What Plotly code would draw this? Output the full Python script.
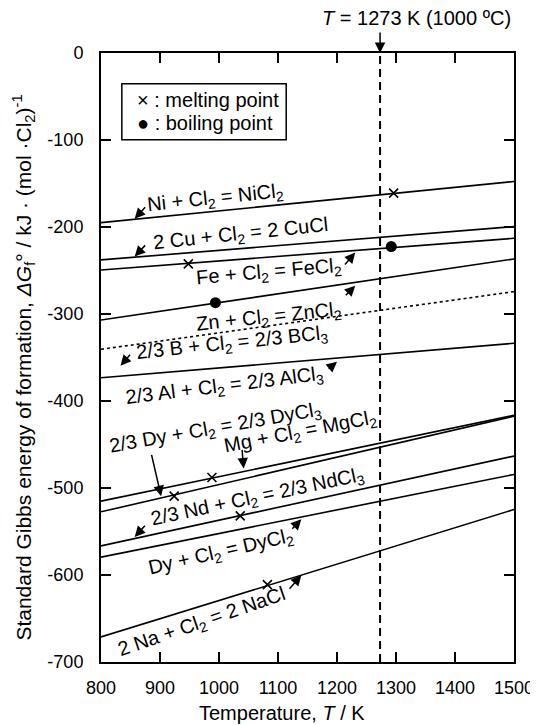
import plotly.graph_objects as go

# ---------------- data ----------------
T_ends = [800, 1500]
reaction_names = ["Ni", "Cu", "Fe", "Zn", "B", "Al", "Mg", "DyCl3", "Nd", "DyCl2", "Na"]
dG_at_800 = [-195.0, -237.8, -249.4, -306.9, -340.6, -373.3, -515.1, -527.4, -566.5, -579.5, -671.2]
dG_at_1500 = [-147.7, -199.5, -213.0, -236.7, -274.3, -333.7, -416.5, -417.5, -463.3, -484.4, -524.7]
line_dash = ["solid", "solid", "solid", "solid", "dot", "solid", "solid", "solid", "solid", "solid", "solid"]

melt_T = [1296, 948, 988, 924, 1036, 1082]
melt_dG = [-161.1, -242.4, -487.9, -509.3, -532.0, -611.0]
boil_T = [1292, 994]
boil_dG = [-222.5, -287.0]

label_text = [
    "Ni + Cl<sub>2</sub> = NiCl<sub>2</sub>",
    "2 Cu + Cl<sub>2</sub> = 2 CuCl",
    "Fe + Cl<sub>2</sub> = FeCl<sub>2</sub>",
    "Zn + Cl<sub>2</sub> = ZnCl<sub>2</sub>",
    "2/3 B + Cl<sub>2</sub> = 2/3 BCl<sub>3</sub>",
    "2/3 Al + Cl<sub>2</sub> = 2/3 AlCl<sub>3</sub>",
    "Mg + Cl<sub>2</sub> = MgCl<sub>2</sub>",
    "2/3 Dy + Cl<sub>2</sub> = 2/3 DyCl<sub>3</sub>",
    "2/3 Nd + Cl<sub>2</sub> = 2/3 NdCl<sub>3</sub>",
    "Dy + Cl<sub>2</sub> = DyCl<sub>2</sub>",
    "2 Na + Cl<sub>2</sub> = 2 NaCl",
]
label_T = [994.7, 1036.7, 1085.4, 1085.4, 1023.3, 1009.8, 1137.4, 994.7, 1065.2, 1003.1, 971.2]
label_dG = [-167.6, -209.1, -252.8, -304.5, -334.4, -382.8, -435.7, -431.1, -510.5, -573.8, -654.4]
label_angle = [-6, -6, -5, -6, -6, -7, -11, -10, -12, -13, -19]

arrow_tail_T = [877.2, 877.2, 1211.3, 1212.4, 851.5, 1183.3, 1038.9, 885.1, 876.7, 1121.8, 1117.3]
arrow_tail_dG = [-175.7, -219.4, -244.7, -280.1, -345.2, -364.4, -454.5, -460.2, -541.6, -548.5, -617.5]
arrow_tip_T = [857.1, 857.1, 1230.9, 1230.9, 833.1, 1200.0, 1041.7, 901.9, 857.1, 1139.6, 1139.6]
arrow_tip_dG = [-190.6, -234.0, -229.4, -267.4, -359.4, -354.8, -477.5, -509.4, -556.2, -535.8, -600.3]

T_mark = 1273
x_ticks = [800, 900, 1000, 1100, 1200, 1300, 1400, 1500]
y_ticks = [0, -100, -200, -300, -400, -500, -600, -700]
y_tick_text = ["0", "-100", "-200", "-300", "-400", "-500", "-600", "-700"]

FONT = "Liberation Sans, Arial, Helvetica, sans-serif"

fig = go.Figure()

for name, y0, y1, d in zip(reaction_names, dG_at_800, dG_at_1500, line_dash):
    fig.add_trace(go.Scatter(x=T_ends, y=[y0, y1], mode="lines",
                             line=dict(color="black", width=1.6, dash=d),
                             name=name, showlegend=False, hoverinfo="skip"))

fig.add_trace(go.Scatter(x=melt_T, y=melt_dG, mode="markers",
                         marker=dict(symbol="x-thin", size=9, color="black",
                                     line=dict(color="black", width=1.6)),
                         showlegend=False))
fig.add_trace(go.Scatter(x=boil_T, y=boil_dG, mode="markers",
                         marker=dict(symbol="circle", size=11, color="black"),
                         showlegend=False))

annotations = []
for txt, tx, ty, ang in zip(label_text, label_T, label_dG, label_angle):
    annotations.append(dict(x=tx, y=ty, xref="x", yref="y", text=txt, showarrow=False,
                            textangle=ang, xanchor="center", yanchor="middle",
                            font=dict(family=FONT, size=20, color="black")))

for ax_, ay_, x_, y_ in zip(arrow_tail_T, arrow_tail_dG, arrow_tip_T, arrow_tip_dG):
    annotations.append(dict(x=x_, y=y_, ax=ax_, ay=ay_, xref="x", yref="y",
                            axref="x", ayref="y", text="", showarrow=True,
                            arrowhead=2, arrowsize=1.4, arrowwidth=1.5,
                            arrowcolor="black", standoff=0, startstandoff=0))

# top marker arrow and text
annotations.append(dict(x=T_mark, y=1, xref="x", yref="paper", ax=0, ay=-22,
                        text="", showarrow=True, arrowhead=2, arrowsize=1.4,
                        arrowwidth=1.5, arrowcolor="black", standoff=0))
annotations.append(dict(x=1335, y=1.058, xref="x", yref="paper",
                        text="<i>T</i> = 1273 K (1000 ºC)", showarrow=False,
                        xanchor="center", yanchor="middle",
                        font=dict(family=FONT, size=20, color="black")))

# legend box text
annotations.append(dict(x=857, y=-54.5, xref="x", yref="y", text="× : melting point",
                        showarrow=False, xanchor="left", yanchor="middle",
                        font=dict(family=FONT, size=20, color="black")))
annotations.append(dict(x=857, y=-80.5, xref="x", yref="y", text="● : boiling point",
                        showarrow=False, xanchor="left", yanchor="middle",
                        font=dict(family=FONT, size=20, color="black")))

# axis titles
annotations.append(dict(x=0.439, y=-0.083, xref="paper", yref="paper",
                        text="Temperature, <i>T</i> / K", showarrow=False,
                        xanchor="center", yanchor="middle",
                        font=dict(family=FONT, size=20, color="black")))
annotations.append(dict(x=-0.187, y=0.483, xref="paper", yref="paper", textangle=-90,
                        text="Standard Gibbs energy of formation, <i>ΔG</i><sub>f</sub>° / kJ · (mol ·Cl<sub>2</sub>)<sup>-1</sup>",
                        showarrow=False, xanchor="center", yanchor="middle",
                        font=dict(family=FONT, size=21, color="black")))

shapes = [
    dict(type="line", xref="x", yref="paper", x0=T_mark, x1=T_mark, y0=0, y1=1,
         line=dict(color="black", width=2, dash="8px,5px")),
    dict(type="rect", xref="x", yref="y", x0=835.3, x1=1113.9, y0=-35.4, y1=-99.8,
         line=dict(color="black", width=1.5), fillcolor="white", layer="below"),
]

axis_common = dict(showgrid=False, zeroline=False, showline=True, linecolor="black",
                   linewidth=2, mirror="allticks", ticks="inside", ticklen=10,
                   tickwidth=1.5, tickcolor="black",
                   tickfont=dict(family=FONT, size=18, color="black"))

# page body has an 8px default margin; margins compensate so the plot frame
# lands at x 101..518, y 53..662 in the 538x725 window
fig.update_layout(
    width=538, height=725,
    margin=dict(l=93, r=28, t=45, b=71),
    paper_bgcolor="white", plot_bgcolor="white",
    showlegend=False,
    xaxis=dict(range=[800, 1500], tickvals=x_ticks, ticklabelstandoff=8, **axis_common),
    yaxis=dict(range=[-700, 0], tickvals=y_ticks, ticktext=y_tick_text,
               ticklabelstandoff=12, **axis_common),
    annotations=annotations,
    shapes=shapes,
)

fig.write_html("out.html")
